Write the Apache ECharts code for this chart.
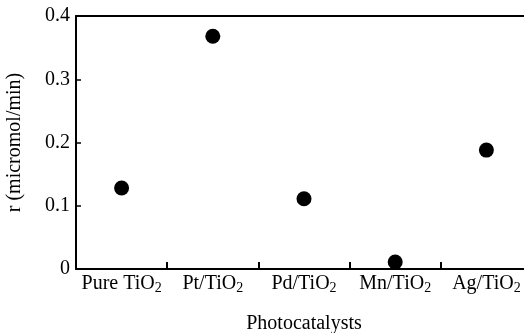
<!DOCTYPE html>
<html><head><meta charset="utf-8">
<script src="https://cdn.jsdelivr.net/npm/echarts@6/dist/echarts.min.js"></script>
<style>html,body{margin:0;padding:0;background:#fff}#c{width:524px;height:333px}</style>
</head><body><div id="c"></div>
<script>
var categories = ['Pure TiO', 'Pt/TiO', 'Pd/TiO', 'Mn/TiO', 'Ag/TiO'];
var rates = [0.128, 0.368, 0.111, 0.011, 0.188];
var yTicks = [0, 0.1, 0.2, 0.3, 0.4];
var font = 'Liberation Serif';
var chart = echarts.init(document.getElementById('c'), null, {renderer: 'canvas'});
chart.setOption({
  animation: false,
  backgroundColor: '#fff',
  grid: {left: 76, top: 16, width: 456, height: 253, outerBoundsMode: 'none', containLabel: false, show: false},
  xAxis: [{
    type: 'category', data: categories, boundaryGap: true, position: 'bottom',
    axisLine: {lineStyle: {color: '#000', width: 2}},
    axisTick: {show: true, inside: true, length: 7, interval: 0, lineStyle: {color: '#000', width: 2}},
    axisLabel: {
      interval: 0, hideOverlap: false, margin: 3, color: '#000', fontFamily: font, fontSize: 20,
      formatter: function (v) { return '{a|' + v + '}{s|2}'; },
      rich: {a: {fontFamily: font, fontSize: 20, color: '#000'}, s: {fontFamily: font, fontSize: 14, color: '#000', padding: [9, 0, 0, 0]}}
    },
    name: 'Photocatalysts', nameLocation: 'middle', nameGap: 45,
    nameTextStyle: {fontFamily: font, fontSize: 20, color: '#000'}
  }, {
    type: 'category', data: categories, position: 'top',
    axisLine: {show: true, lineStyle: {color: '#000', width: 2}},
    axisTick: {show: false}, axisLabel: {show: false}
  }],
  yAxis: {
    type: 'value', min: yTicks[0], max: yTicks[yTicks.length - 1], interval: 0.1,
    splitLine: {show: false},
    axisLine: {show: true, lineStyle: {color: '#000', width: 2}},
    axisTick: {show: true, inside: true, length: 5, lineStyle: {color: '#000', width: 1.5}},
    axisLabel: {margin: 6, color: '#000', fontFamily: font, fontSize: 20,
      formatter: function (v) { return v === 0 ? '0' : v.toFixed(1); }},
    name: 'r (micromol/min)', nameLocation: 'middle', nameGap: 51,
    nameTextStyle: {fontFamily: font, fontSize: 20, color: '#000'}
  },
  series: [{
    type: 'scatter', data: rates, symbol: 'circle', symbolSize: 15,
    itemStyle: {color: '#000', opacity: 1}
  }]
});
</script></body></html>
